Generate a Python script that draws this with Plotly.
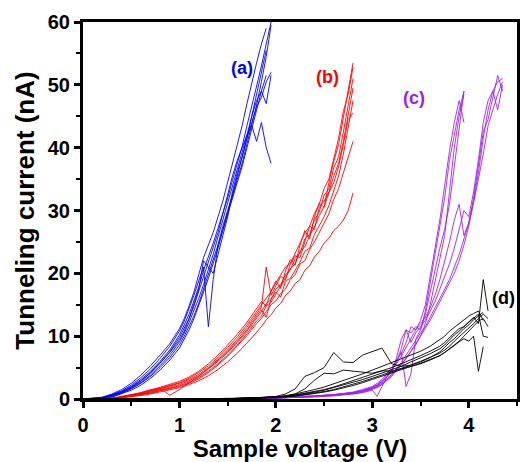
import plotly.graph_objects as go

# ---------------- data ----------------
V_a = [0, 0.1, 0.2, 0.3, 0.4, 0.5, 0.6, 0.7, 0.8, 0.9, 1.0, 1.05, 1.1, 1.15, 1.2, 1.25, 1.3, 1.35,
       1.4, 1.45, 1.5, 1.55, 1.6, 1.65, 1.7, 1.75, 1.8, 1.85, 1.9, 1.95]
I_a = [
    [0, 0, 0.1, 0.4, 0.9, 1.6, 2.5, 3.6, 5.0, 6.6, 8.6, 10, 11.5, 13.2, 15.2, 17.5, 19.8, 22, 24.5, 27, 29.8, 32.5, 35, 37.5, 40.5, 43.5, 46.8, 50.5, 54.5, 59.5],
    [0, 0.05, 0.2, 0.6, 1.2, 2.0, 3.1, 4.4, 6.0, 7.8, 10.2, 11.8, 13.5, 15.6, 17.8, 20.5, 22.6, 24.8, 27.2, 29.5, 32, 34.8, 37.5, 40.2, 43.5, 46.5, 49.8, 53, 56.5, 60],
    [0, 0, 0.15, 0.5, 1.0, 1.7, 2.6, 3.8, 5.3, 7.0, 9.1, 10.5, 12.2, 14, 16, 18.2, 20.5, 23, 25.8, 28.5, 31.2, 33.8, 36.2, 39, 42, 45, 47.5, 49, 51.5],
    [0, 0.1, 0.3, 0.7, 1.3, 2.2, 3.4, 4.8, 6.5, 8.4, 10.8, 12.4, 14.3, 16.5, 18.8, 21, 11.5, 19, 24.5, 27.5, 30, 32.5, 35.5, 38.5, 41.5, 44, 46.5, 48, 50.5, 52],
    [0, 0, 0.2, 0.5, 1.1, 1.9, 2.9, 4.1, 5.7, 7.5, 9.8, 11.2, 12.8, 14.8, 17, 19.5, 21.8, 24, 26.5, 29.5, 32.5, 35.5, 38, 40, 42, 43.5, 41, 44, 40, 37.5],
    [0, 0.05, 0.25, 0.8, 1.5, 2.5, 3.8, 5.3, 7.0, 8.8, 11.2, 12.8, 14.8, 17, 19.8, 22.5, 24.5, 26.5, 29, 31.5, 34.5, 37.5, 40.5, 43.5, 47, 50.5, 53.5, 56.5, 59],
    [0, 0, 0.1, 0.3, 0.8, 1.4, 2.2, 3.3, 4.6, 6.2, 8.1, 9.5, 11, 12.8, 14.8, 17, 19.2, 21.5, 24, 26.8, 29.5, 32, 34.5, 37, 40, 43, 46, 49, 47, 51.5],
    [0, 0.1, 0.2, 0.6, 1.1, 1.8, 2.8, 4.2, 5.8, 7.4, 9.4, 10.8, 12.8, 15, 17.5, 22, 21, 20, 23, 26, 29, 33, 36, 38.5, 41.5, 45, 48.5, 52.5, 55.5],
]

V_b = [0, 0.1, 0.2, 0.3, 0.4, 0.5, 0.6, 0.7, 0.8, 0.9, 1.0, 1.1, 1.2, 1.3, 1.4, 1.5, 1.6, 1.7, 1.8,
       1.85, 1.9, 1.95, 2.0, 2.05, 2.1, 2.15, 2.2, 2.25, 2.3, 2.35, 2.4, 2.45, 2.5, 2.55, 2.6,
       2.65, 2.7, 2.75, 2.8]
I_b = [
    [0, 0, 0, 0.1, 0.3, 0.5, 0.8, 1.1, 1.5, 1.9, 2.3, 2.9, 3.7, 4.8, 6.0, 7.4, 9.0, 10.8, 12.8, 13.9, 15.2, 15.8, 17.5, 18.2, 19.8, 20.5, 22.4, 23.2, 25.5, 26.2, 28.5, 29.8, 32.4, 33.5, 36.8, 38.5, 42.5, 46.5, 51],
    [0, 0, 0.05, 0.15, 0.4, 0.7, 1.0, 1.4, 1.9, 2.3, 2.8, 3.5, 4.4, 5.6, 7.0, 8.6, 10.3, 12.2, 14.3, 15.5, 14.8, 17.2, 18.8, 17.6, 20.4, 22.2, 21.3, 24.5, 26.8, 25.5, 29, 31.2, 30.5, 34.5, 37.8, 40.5, 44.8, 49.5, 53.5],
    [0, 0, 0, 0.05, 0.2, 0.4, 0.6, 0.9, 1.3, 1.6, 2.0, 2.5, 3.2, 4.2, 5.4, 6.8, 8.4, 10.1, 12, 12.8, 13.9, 15, 15.6, 16.8, 17.5, 19, 19.8, 21.5, 22, 23.8, 25, 26.5, 28.2, 29.5, 31.8, 33.5, 36, 38.5, 41],
    [0, 0, 0, 0.1, 0.3, 0.6, 1.0, 1.5, 1.7, 0.6, 1.5, 2.6, 3.6, 4.8, 6.2, 7.6, 9.2, 11, 13.2, 14.2, 13, 16, 17, 16.2, 18.8, 19.2, 20.5, 21.8, 23.5, 24, 26.2, 27.5, 29, 30.8, 33, 35.5, 39, 43.5, 47.5],
    [0, 0, 0, 0.05, 0.2, 0.35, 0.55, 0.8, 1.1, 1.4, 1.8, 2.3, 2.9, 3.7, 4.7, 5.9, 7.3, 8.9, 10.6, 11.5, 12.6, 13.4, 14.5, 15.2, 16.5, 17.2, 18.4, 19, 20.5, 21.2, 22.6, 23.5, 24.8, 25.6, 26.8, 27.5, 28.5, 30, 32.8],
    [0, 0, 0, 0.1, 0.35, 0.6, 0.9, 1.3, 1.7, 2.1, 2.6, 3.3, 4.2, 5.3, 6.6, 8.2, 9.9, 11.8, 13.9, 15, 16.2, 17.1, 18.5, 19.8, 21, 21.6, 23.2, 24.8, 26.4, 27.5, 29.5, 31, 33.5, 35, 38.2, 41.5, 45.8, 48.5, 52.8],
    [0, 0, 0, 0.05, 0.25, 0.45, 0.7, 1.0, 1.4, 1.7, 2.1, 2.7, 3.4, 4.4, 5.6, 7.0, 8.6, 10.4, 12.4, 13.2, 14.8, 15.4, 16.8, 18, 19.2, 20.8, 21.5, 23.5, 24.2, 26, 27.4, 29.2, 30.6, 32.8, 34.4, 37, 40.5, 44.5, 45.5],
    [0, 0, 0, 0.1, 0.3, 0.5, 0.8, 1.2, 1.6, 2.0, 2.5, 3.1, 3.9, 5.0, 6.3, 7.8, 9.5, 11.4, 13.5, 14.6, 21, 16.5, 18, 19.5, 19, 21.5, 22.8, 22.5, 25, 27.5, 27, 30.5, 31.5, 33, 35.5, 37.5, 41, 45, 49.5],
]

V_c = [0, 0.5, 1.0, 1.5, 1.8, 2.0, 2.2, 2.4, 2.6, 2.8, 2.9, 3.0, 3.05, 3.1, 3.15, 3.2, 3.25, 3.3,
       3.35, 3.4, 3.45, 3.5, 3.55, 3.6, 3.65, 3.7, 3.75, 3.8, 3.85, 3.9, 3.95, 4.0, 4.05, 4.1,
       4.15, 4.2, 4.25, 4.3, 4.35]
I_c = [
    [0, 0, 0, 0.05, 0.1, 0.15, 0.25, 0.4, 0.6, 0.9, 1.2, 1.6, 1.9, 2.4, 3.0, 3.8, 4.6, 5.5, 6.5, 7.5, 8.6, 10, 12, 15, 18.5, 22, 26, 33, 40, 45, 48.5],
    [0, 0, 0, 0.05, 0.1, 0.2, 0.3, 0.45, 0.7, 1.0, 1.3, 1.8, 2.2, 2.8, 3.6, 4.5, 5.8, 8, 11, 10.5, 11.5, 11, 13.5, 17, 21, 24, 27, 31, 37, 43, 49],
    [0, 0, 0, 0.05, 0.1, 0.15, 0.2, 0.35, 0.5, 0.8, 1.0, 1.4, 0.4, 2, 3.5, 4.6, 6.0, 7.5, 2.0, 4, 9.5, 11, 14, 18.5, 23, 27, 32, 38, 42, 46, 49],
    [0, 0, 0, 0.05, 0.1, 0.2, 0.3, 0.5, 0.7, 1.1, 1.5, 2.0, 2.5, 3.1, 4.0, 5.0, 6.2, 7.2, 9, 11.5, 11, 12.5, 15, 19.5, 24, 28.5, 34, 39.5, 44, 47.5, 44],
    [0, 0, 0, 0.05, 0.1, 0.15, 0.25, 0.4, 0.6, 0.9, 1.2, 1.6, 2.0, 2.5, 3.1, 3.9, 4.8, 5.8, 7, 8.2, 9.4, 10.5, 11.5, 13, 14.5, 16, 17.5, 19, 21, 23, 25.5, 28, 31.5, 36, 41.5, 46, 49, 50.5, 51],
    [0, 0, 0, 0.05, 0.1, 0.2, 0.3, 0.45, 0.65, 1.0, 1.3, 1.7, 2.1, 2.7, 3.4, 4.2, 6.5, 9.5, 11, 9, 10.5, 11.5, 12.5, 14, 15.5, 17.5, 19.5, 21.5, 24, 27, 30, 29, 33, 38, 44, 47.5, 49, 46, 50],
    [0, 0, 0, 0.05, 0.1, 0.15, 0.2, 0.35, 0.55, 0.8, 1.1, 1.5, 1.8, 2.3, 2.9, 3.6, 4.5, 5.4, 6.4, 7.6, 8.8, 10, 11.2, 12.5, 14, 15.5, 17, 18.5, 20, 22, 24.5, 27.5, 31, 35, 39, 43.5, 46, 48.5, 50.5],
    [0, 0, 0, 0.05, 0.1, 0.2, 0.3, 0.5, 0.7, 1.0, 1.4, 1.9, 2.3, 2.9, 3.7, 4.6, 5.6, 6.8, 8.2, 9.6, 11, 12, 13, 14.5, 16.5, 19, 22, 25, 28.5, 31, 26, 28, 32, 37, 42.5, 44.5, 48, 51.5, 49],
]

V_d = [0, 0.5, 1.0, 1.5, 1.8, 2.0, 2.1, 2.2, 2.3, 2.4, 2.5, 2.6, 2.7, 2.8, 2.9, 3.0, 3.1, 3.2,
       3.3, 3.4, 3.5, 3.6, 3.7, 3.75, 3.8, 3.85, 3.9, 3.95, 4.0, 4.05, 4.1, 4.15, 4.2]
I_d = [
    [0, 0, 0, 0.05, 0.2, 0.4, 0.8, 1.6, 3.6, 4.2, 5.0, 7.4, 5.9, 5.8, 7.0, 7.5, 8.1, 5.6, 5.2, 5.4, 5.9, 6.6, 7.5, 8.2, 9.0, 9.6, 10.4, 11.2, 11.8, 12.6, 13.2, 13.8],
    [0, 0, 0, 0.05, 0.2, 0.3, 0.5, 0.8, 1.6, 3.0, 4.1, 4.0, 4.6, 4.4, 4.3, 4.1, 4.5, 4.4, 4.8, 5.2, 5.6, 6.2, 6.9, 7.4, 8.0, 8.6, 9.2, 10.0, 10.8, 11.6, 12.4, 12.8, 11.5],
    [0, 0, 0, 0.05, 0.15, 0.25, 0.35, 0.5, 0.7, 0.9, 1.2, 1.5, 1.9, 2.3, 2.8, 3.3, 3.8, 4.3, 4.8, 5.4, 6.0, 6.6, 7.3, 7.8, 8.4, 9.2, 9.9, 10.6, 11.2, 12, 12.8, 13.5, 12.8],
    [0, 0, 0, 0.05, 0.15, 0.3, 0.4, 0.6, 0.8, 1.1, 1.4, 1.8, 2.2, 2.6, 3.1, 3.6, 4.1, 4.6, 5.2, 5.9, 6.5, 7.2, 8.0, 8.6, 9.4, 10.2, 10.8, 11.5, 12.2, 13, 12, 19, 14],
    [0, 0, 0, 0.03, 0.1, 0.2, 0.3, 0.45, 0.65, 0.85, 1.1, 1.4, 1.75, 2.15, 2.6, 3.1, 3.6, 4.1, 4.6, 5.1, 5.7, 6.3, 6.9, 7.4, 7.9, 8.5, 9.1, 9.6, 9.2, 10, 4.4, 8.3],
    [0, 0, 0, 0.05, 0.15, 0.3, 0.45, 0.65, 0.9, 1.2, 1.5, 1.9, 2.4, 2.9, 3.4, 4.0, 4.5, 5.0, 5.6, 6.2, 6.9, 7.6, 8.4, 9.0, 9.8, 10.5, 11.2, 11.5, 12.2, 12.8, 13.5, 10, 9.8],
    [0, 0, 0, 0.05, 0.2, 0.35, 0.5, 0.8, 1.1, 1.5, 1.9, 2.4, 2.9, 3.4, 4.0, 4.6, 5.2, 5.7, 6.3, 6.9, 7.6, 8.4, 9.4, 10, 10.8, 11.4, 12, 12.6, 13.2, 13.6, 14, 12.5],
]

group_labels = ["(a)", "(b)", "(c)", "(d)"]
label_x = [1.65, 2.54, 3.43, 4.36]
label_y = [52.7, 51.3, 47.9, 16.1]

x_ticks = [0, 1, 2, 3, 4]
y_ticks = [0, 10, 20, 30, 40, 50, 60]

# ---------------- figure ----------------
colors = ["#0000ff", "#ff0000", "#a020f0", "#000000"]
groups = [(V_a, I_a), (V_b, I_b), (V_c, I_c), (V_d, I_d)]
FONT = "Liberation Sans, Arial, sans-serif"

fig = go.Figure()
for (vx, curves), col in zip(groups, colors):
    for cur in curves:
        fig.add_trace(go.Scatter(
            x=vx[:len(cur)], y=cur, mode="lines",
            line=dict(color=col, width=0.9),
            showlegend=False, hoverinfo="skip"))

for txt, lx, ly, col in zip(group_labels, label_x, label_y, colors):
    fig.add_annotation(x=lx, y=ly, text="<b>%s</b>" % txt, showarrow=False,
                       font=dict(family=FONT, size=18, color=col))

axis_common = dict(
    showline=True, linecolor="black", linewidth=3, mirror=True,
    ticks="outside", ticklen=6, tickwidth=3, tickcolor="black",
    showgrid=False, zeroline=False,
    tickfont=dict(family=FONT, size=20, color="black", weight="bold"),
)

fig.update_xaxes(range=[0, 4.5], tickvals=x_ticks,
                 minor=dict(dtick=0.5, ticks="outside", ticklen=4, tickwidth=2, tickcolor="black"),
                 title=dict(text="<b>Sample voltage (V)</b>", standoff=8,
                            font=dict(family=FONT, size=24, color="black")),
                 **axis_common)
fig.update_yaxes(range=[0, 60], tickvals=y_ticks,
                 minor=dict(dtick=5, ticks="outside", ticklen=4, tickwidth=2, tickcolor="black"),
                 title=dict(text="<b>Tunneling current (nA)</b>", standoff=6,
                            font=dict(family=FONT, size=26, color="black")),
                 **axis_common)

fig.update_layout(
    width=520, height=462,
    margin=dict(l=83, r=0, t=22, b=63),
    paper_bgcolor="white", plot_bgcolor="white",
)

fig.write_html("out.html")
